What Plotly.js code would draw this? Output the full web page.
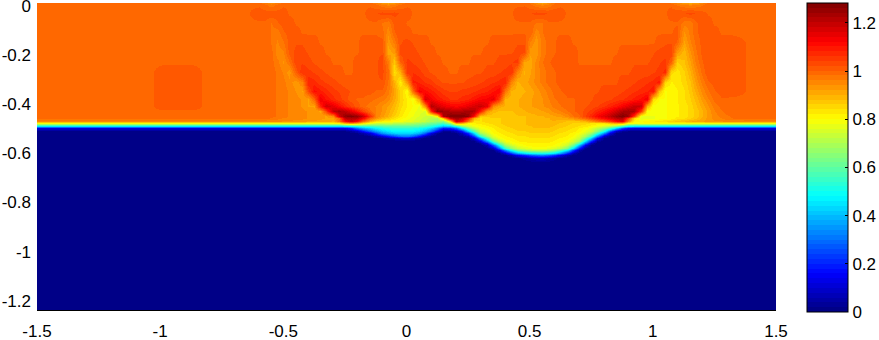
<!DOCTYPE html>
<html><head><meta charset="utf-8">
<script src="https://cdn.plot.ly/plotly-3.0.1.min.js"></script>
<style>html,body{margin:0;padding:0;background:#fff}</style></head>
<body><div id="c" style="width:879px;height:340px"></div>
<script>
const xs=[-1.5,-1.2,-1.04,-0.98,-0.88,-0.82,-0.7,-0.65,
-0.6,-0.575,-0.55,-0.525,-0.5,-0.475,-0.45,-0.425,-0.4,-0.375,-0.35,-0.325,-0.3,-0.275,-0.25,-0.225,-0.2,-0.175,-0.15,-0.125,
-0.1,-0.075,-0.05,-0.025,0,0.025,0.05,0.075,0.1,0.125,0.15,0.175,0.2,0.225,0.25,0.275,0.3,0.325,0.35,0.375,
0.4,0.425,0.45,0.475,0.5,0.525,0.55,0.575,0.6,0.625,0.65,0.675,0.7,0.725,0.75,0.775,0.8,0.825,0.85,0.875,
0.9,0.925,0.95,0.975,1.0,1.025,1.05,1.075,1.1,1.125,1.15,1.175,1.2,1.225,1.25,1.275,1.3,
1.4,1.5];
const ys=[0,-0.01,-0.04,-0.08,-0.12,-0.16,-0.20,-0.24,-0.28,-0.32,-0.36,-0.39,-0.42,-0.44,-0.46,-0.47,-0.48,-0.49,-0.50,-0.51,-0.52,-0.53,-0.54,-0.55,-0.56,-0.57,-0.58,-0.59,-0.60,-0.61,-0.62,-0.63,-0.65,-1.25];
const zPercent=[
[100,100,100,100,100,100,100,100, 99,97,95,97,99,100,100,100,100,100,100,100,100,100,100,100,100,100,99,97, 94,92,94,97,99,100,100,100,100,100,100,100,100,100,100,100,100,100,100,100, 100,100,100,100,98,95,92,95,98,100,100,100,100,100,100,100,100,100,100,100, 100,100,100,100,100,100,100,98,96,93,92,93,96,99,100,100,100, 100,100],
[100,100,100,100,100,100,100,100, 100,99,97,99,100,100,100,100,100,100,100,100,100,100,100,100,100,100,100,99, 97,96,97,99,100,100,100,100,100,100,100,100,100,100,100,100,100,100,100,100, 100,100,100,100,99,97,96,97,99,100,100,100,100,100,100,100,100,100,100,100, 100,100,100,100,100,100,100,100,98,97,96,97,98,100,100,100,100, 100,100],
[100,100,100,100,100,100,100,100, 101,101,102,101,101,100,100,100,100,100,100,100,100,100,100,100,100,100,101,102, 103,103,103,102,101,100,100,100,100,100,100,100,100,100,100,100,100,100,100,100, 100,100,101,102,102,103,103,102,102,101,100,100,100,100,100,100,100,100,100,100, 100,100,100,100,100,100,100,101,102,102,103,102,101,100,100,100,100, 100,100],
[100,100,100,100,100,100,100,100, 100,100,98,100,101,101,100,100,100,100,100,100,100,100,100,100,100,100,100,100, 98,97,101,101,100,100,100,100,100,100,100,100,100,100,100,100,100,100,100,100, 100,100,100,100,100,98,98,100,100,100,100,100,100,100,100,100,100,100,100,100, 100,100,100,100,100,100,100,100,100,97,97,100,101,101,100,100,100, 100,100],
[100,100,100,100,100,100,100,100, 100,100,98,97,100,101,101,100,100,100,100,100,100,100,100,100,100,100,100,100, 99,95,100,102,101,100,100,100,100,100,100,100,100,100,100,100,100,100,100,100, 100,100,100,100,100,95,98,100,100,100,100,100,100,100,100,100,100,100,100,100, 100,100,100,100,100,100,100,100,101,94,97,100,101,101,101,100,100, 100,100],
[100,100,100,100,100,100,100,100, 100,100,98,96,98,101,102,102,101,101,100,100,100,100,100,100,100,101,101,101, 101,93,97,102,103,102,101,101,100,100,100,100,100,100,100,100,100,100,101,101, 101,101,102,102,96,93,97,99,100,101,101,100,100,100,100,100,100,100,100,100, 100,100,100,100,100,101,102,102,100,92,96,99,101,102,102,101,101, 100,100],
[100,100,100,100,100,100,100,100, 100,100,99,95,96,101,103,103,102,101,101,100,100,100,100,100,100,101,101,102, 102,91,93,103,103,103,102,101,101,100,100,100,100,100,100,100,100,101,101,102, 102,102,103,103,93,93,97,99,100,101,101,101,100,100,100,100,100,100,100,101, 101,101,101,101,102,103,103,104,93,89,94,98,101,102,102,102,101, 100,100],
[100,100,100,100,100,100,100,100, 100,100,99,97,94,98,104,104,103,102,101,101,100,100,100,100,101,101,102,102, 103,97,87,100,105,104,103,102,101,101,100,100,100,100,100,101,101,102,102,103, 103,104,105,92,91,95,98,100,101,101,101,101,100,100,100,100,100,100,101,101, 101,102,102,102,103,104,105,100,86,88,92,97,100,102,102,102,101, 100,100],
[100,100,100,101,101,100,100,100, 100,100,99,98,96,93,101,106,105,104,103,102,101,101,100,100,101,101,102,102, 103,99,84,90,106,106,105,103,102,101,101,100,100,101,101,102,102,103,103,104, 105,106,96,90,92,95,97,99,100,101,101,101,101,101,101,101,101,101,102,102, 102,103,103,103,104,105,107,85,83,86,90,95,99,102,102,102,101, 100,100],
[100,100,100,101,101,100,100,100, 100,100,99,98,97,95,93,96,108,107,105,104,103,102,101,101,101,101,102,102, 102,98,90,82,94,109,108,106,105,103,102,102,102,102,103,103,104,105,106,107, 108,96,90,91,93,95,97,99,100,101,101,101,101,101,102,102,102,102,102,103, 103,104,105,106,107,109,85,82,83,85,88,93,97,100,101,102,101, 100,100],
[100,100,100,101,101,100,100,100, 100,100,99,98,97,96,94,92,103,111,109,107,105,104,103,102,101,101,101,100, 100,97,92,86,80,100,113,111,109,107,105,104,104,105,105,106,107,108,110,112, 98,90,89,90,91,93,95,97,99,100,101,101,101,102,102,102,103,103,103,104, 105,106,107,108,110,88,80,81,82,84,87,91,95,98,100,101,101, 100,100],
[100,100,100,101,101,100,100,100, 100,100,99,98,97,96,95,94,92,100,114,110,107,105,103,101,100,100,99,98, 97,95,91,86,82,79,92,117,113,110,108,106,106,107,108,110,112,113,115,105, 90,89,90,91,92,93,94,96,98,99,100,100,101,101,102,103,103,104,105,106, 107,109,111,114,85,80,80,81,82,84,86,89,93,96,99,100,100, 100,100],
[100,100,100,101,101,100,100,100, 100,100,99,98,97,96,95,94,92,92,108,118,115,111,107,104,101,99,97,96, 94,92,89,85,82,80,78,95,122,118,115,113,112,113,115,117,119,115,95,91, 90,90,90,91,92,93,94,95,97,98,100,100,101,102,103,104,106,108,110,113, 116,119,118,90,79,79,80,81,82,83,85,88,91,94,97,99,100, 100,100],
[100,100,100,100,100,100,100,100, 100,100,99,98,97,96,95,95,94,93,92,104,120,123,120,115,110,104,99,96, 94,91,88,84,81,79,77,76,108,126,124,122,121,122,123,122,110,93,89,88, 88,88,89,90,91,91,92,93,95,96,98,100,101,103,105,108,111,114,118,122, 124,122,105,80,79,79,80,81,82,83,85,87,90,93,96,98,99, 100,100],
[100,100,100,100,100,100,100,100, 100,100,99,98,97,96,95,95,94,94,93,92,95,118,126,127,125,118,106,96, 93,90,86,83,80,78,76,74,73,82,122,128,128,128,126,110,88,87,87,87, 87,87,88,88,89,90,90,91,92,93,95,98,100,104,108,112,116,120,125,128, 124,105,78,78,78,79,80,81,82,83,85,87,90,93,95,97,98, 100,100],
[99,99,99,99,99,99,99,99, 99,99,98,97,96,96,95,95,94,94,93,92,92,100,120,122,120,112,100,94, 90,87,84,81,79,77,75,73,71,70,88,118,124,120,108,90,84,85,86,86, 87,87,88,88,89,89,90,90,91,91,92,94,97,100,104,108,112,116,120,122, 105,85,77,78,78,79,80,81,83,84,86,88,91,93,95,96,98, 99,99],
[95,95,95,95,95,95,95,95, 95,95,95,95,94,94,93,93,92,92,91,91,90,98,112,118,112,100,90,84, 82,81,80,79,77,76,74,72,69,67,66,85,118,112,98,84,84,85,86,86, 87,87,88,88,89,89,90,90,90,89,88,88,88,90,94,98,102,106,112,116, 95,81,80,81,82,83,84,85,87,88,90,91,92,93,94,94,95, 95,95],
[80,80,80,80,80,80,80,80, 80,80,80,80,80,80,80,80,80,80,80,80,80,82,90,94,90,84,78,74, 73,73,72,71,70,69,67,65,62,60,57,68,92,90,82,82,83,84,85,86, 87,87,88,88,89,89,90,90,89,88,87,86,85,85,84,84,84,88,92,92, 80,79,80,80,80,80,80,80,80,80,80,80,80,80,80,80,80, 80,80],
[45,45,45,45,45,45,45,45, 45,45,45,45,45,45,45,45,45,45,45,45,45,45,47,49,52,54,55,57, 58,59,60,60,60,59,58,56,52,47,40,42,52,65,74,78,80,82,83,85, 86,87,87,88,88,89,89,89,88,87,86,85,84,83,81,78,75,71,65,56, 48,46,45,45,45,45,45,45,45,45,45,45,45,45,45,45,45, 45,45],
[12,12,12,12,12,12,12,12, 12,12,12,12,12,12,12,12,12,12,12,12,12,12,14,20,30,37,42,47, 50,52,53,53,53,52,50,47,42,32,18,20,28,45,62,72,78,80,82,84, 85,86,87,87,88,88,88,88,87,86,85,84,82,80,77,72,66,56,42,25, 15,12,12,12,12,12,12,12,12,12,12,12,12,12,12,12,12, 12,12],
[2,2,2,2,2,2,2,2, 2,2,2,2,2,2,2,2,2,2,2,2,2,2,2,4,8,18,28,36, 42,45,48,48,48,47,45,39,30,15,3,4,8,20,42,60,73,78,81,83, 84,85,86,86,87,87,87,87,86,85,84,83,81,78,74,65,50,28,10,3, 2,2,2,2,2,2,2,2,2,2,2,2,2,2,2,2,2, 2,2],
[0,0,0,0,0,0,0,0, 0,0,0,0,0,0,0,0,0,0,0,0,0,0,0,1,2,6,12,24, 34,39,42,44,44,42,38,27,12,3,0,0,1,8,22,46,68,75,80,82, 83,84,85,85,86,86,86,86,85,84,83,81,79,75,68,54,34,12,2,0, 0,0,0,0,0,0,0,0,0,0,0,0,0,0,0,0,0, 0,0],
[0,0,0,0,0,0,0,0, 0,0,0,0,0,0,0,0,0,0,0,0,0,0,0,0,0,0,2,6, 12,19,25,30,32,27,18,8,2,0,0,0,0,2,6,25,52,68,77,80, 82,83,84,84,85,85,85,85,84,83,82,80,76,69,56,34,10,2,0,0, 0,0,0,0,0,0,0,0,0,0,0,0,0,0,0,0,0, 0,0],
[0,0,0,0,0,0,0,0, 0,0,0,0,0,0,0,0,0,0,0,0,0,0,0,0,0,0,0,1, 2,4,6,9,10,7,4,1,0,0,0,0,0,0,1,9,32,55,72,78, 81,82,83,83,84,84,84,84,83,82,81,78,73,60,42,16,2,0,0,0, 0,0,0,0,0,0,0,0,0,0,0,0,0,0,0,0,0, 0,0],
[0,0,0,0,0,0,0,0, 0,0,0,0,0,0,0,0,0,0,0,0,0,0,0,0,0,0,0,0, 0,0,0,0,1,0,0,0,0,0,0,0,0,0,0,2,12,36,60,72, 78,80,82,83,83,83,83,83,82,81,79,75,68,46,22,4,0,0,0,0, 0,0,0,0,0,0,0,0,0,0,0,0,0,0,0,0,0, 0,0],
[0,0,0,0,0,0,0,0, 0,0,0,0,0,0,0,0,0,0,0,0,0,0,0,0,0,0,0,0, 0,0,0,0,0,0,0,0,0,0,0,0,0,0,0,0,3,18,44,62, 74,78,80,81,82,82,82,82,81,79,76,70,56,30,8,0,0,0,0,0, 0,0,0,0,0,0,0,0,0,0,0,0,0,0,0,0,0, 0,0],
[0,0,0,0,0,0,0,0, 0,0,0,0,0,0,0,0,0,0,0,0,0,0,0,0,0,0,0,0, 0,0,0,0,0,0,0,0,0,0,0,0,0,0,0,0,0,6,26,50, 68,74,78,80,81,82,82,81,80,78,73,62,40,14,1,0,0,0,0,0, 0,0,0,0,0,0,0,0,0,0,0,0,0,0,0,0,0, 0,0],
[0,0,0,0,0,0,0,0, 0,0,0,0,0,0,0,0,0,0,0,0,0,0,0,0,0,0,0,0, 0,0,0,0,0,0,0,0,0,0,0,0,0,0,0,0,0,1,9,30, 55,66,73,76,78,79,79,78,76,72,64,45,20,3,0,0,0,0,0,0, 0,0,0,0,0,0,0,0,0,0,0,0,0,0,0,0,0, 0,0],
[0,0,0,0,0,0,0,0, 0,0,0,0,0,0,0,0,0,0,0,0,0,0,0,0,0,0,0,0, 0,0,0,0,0,0,0,0,0,0,0,0,0,0,0,0,0,0,1,12, 33,50,62,67,70,71,71,70,66,58,46,24,5,0,0,0,0,0,0,0, 0,0,0,0,0,0,0,0,0,0,0,0,0,0,0,0,0, 0,0],
[0,0,0,0,0,0,0,0, 0,0,0,0,0,0,0,0,0,0,0,0,0,0,0,0,0,0,0,0, 0,0,0,0,0,0,0,0,0,0,0,0,0,0,0,0,0,0,0,2, 10,24,38,45,49,51,52,50,46,37,22,7,1,0,0,0,0,0,0,0, 0,0,0,0,0,0,0,0,0,0,0,0,0,0,0,0,0, 0,0],
[0,0,0,0,0,0,0,0, 0,0,0,0,0,0,0,0,0,0,0,0,0,0,0,0,0,0,0,0, 0,0,0,0,0,0,0,0,0,0,0,0,0,0,0,0,0,0,0,0, 1,6,14,20,26,29,31,28,22,13,5,1,0,0,0,0,0,0,0,0, 0,0,0,0,0,0,0,0,0,0,0,0,0,0,0,0,0, 0,0],
[0,0,0,0,0,0,0,0, 0,0,0,0,0,0,0,0,0,0,0,0,0,0,0,0,0,0,0,0, 0,0,0,0,0,0,0,0,0,0,0,0,0,0,0,0,0,0,0,0, 0,0,1,3,5,7,8,6,3,1,0,0,0,0,0,0,0,0,0,0, 0,0,0,0,0,0,0,0,0,0,0,0,0,0,0,0,0, 0,0],
[0,0,0,0,0,0,0,0, 0,0,0,0,0,0,0,0,0,0,0,0,0,0,0,0,0,0,0,0, 0,0,0,0,0,0,0,0,0,0,0,0,0,0,0,0,0,0,0,0, 0,0,0,0,0,0,0,0,0,0,0,0,0,0,0,0,0,0,0,0, 0,0,0,0,0,0,0,0,0,0,0,0,0,0,0,0,0, 0,0],
[0,0,0,0,0,0,0,0, 0,0,0,0,0,0,0,0,0,0,0,0,0,0,0,0,0,0,0,0, 0,0,0,0,0,0,0,0,0,0,0,0,0,0,0,0,0,0,0,0, 0,0,0,0,0,0,0,0,0,0,0,0,0,0,0,0,0,0,0,0, 0,0,0,0,0,0,0,0,0,0,0,0,0,0,0,0,0, 0,0]
];
const xTicks=[-1.5,-1,-0.5,0,0.5,1,1.5];
const xLabels=['-1.5','-1','-0.5','0','0.5','1','1.5'];
const yTicks=[0,-0.2,-0.4,-0.6,-0.8,-1,-1.2];
const yLabels=['0','-0.2','-0.4','-0.6','-0.8','-1','-1.2'];
const cbTicks=[0,0.2,0.4,0.6,0.8,1,1.2];
const cbLabels=['0','0.2','0.4','0.6','0.8','1','1.2'];

const z=zPercent.map(r=>r.map(v=>v/100));
const cl=v=>Math.round(255*Math.max(0,Math.min(1,v)));
const jet=[];
for(let i=0;i<64;i++){
  const t=(i+0.5)/64;
  const c=`rgb(${cl(1.5-Math.abs(4*t-3))},${cl(1.5-Math.abs(4*t-2))},${cl(1.5-Math.abs(4*t-1))})`;
  jet.push([i/64,c],[(i+1)/64,c]);
}
const f={family:'"Liberation Sans",Arial,sans-serif',size:17,color:'#000'};
Plotly.newPlot('c',[{
  type:'heatmap',x:xs,y:ys,z:z,zsmooth:'best',zmin:0,zmax:1.283,colorscale:jet,
  colorbar:{xref:'container',x:807/879,xanchor:'left',xpad:0,ypad:0,y:1,yanchor:'top',lenmode:'pixels',len:309,
    thicknessmode:'pixels',thickness:41,outlinecolor:'#000',outlinewidth:1,
    ticks:'inside',ticklen:3,tickcolor:'#000',tickmode:'array',tickvals:cbTicks,ticktext:cbLabels,tickfont:f}
}],{
  width:879,height:340,margin:{l:37,r:103,t:3,b:30,pad:0},paper_bgcolor:'#fff',plot_bgcolor:'#fff',
  xaxis:{range:[-1.5,1.5],tickmode:'array',tickvals:xTicks,ticktext:xLabels,tickfont:f,showgrid:false,zeroline:false,
    showline:true,linecolor:'#000',linewidth:1,ticks:'',layer:'below traces',ticklabelstandoff:6,ticklabeloverflow:'allow'},
  yaxis:{range:[-1.25,0],tickmode:'array',tickvals:yTicks,ticktext:yLabels,tickfont:f,showgrid:false,zeroline:false,
    showline:false,ticks:'',ticklabelstandoff:5,ticklabelshift:3,ticklabeloverflow:'allow'}
},{displayModeBar:false,staticPlot:true});
</script></body></html>
